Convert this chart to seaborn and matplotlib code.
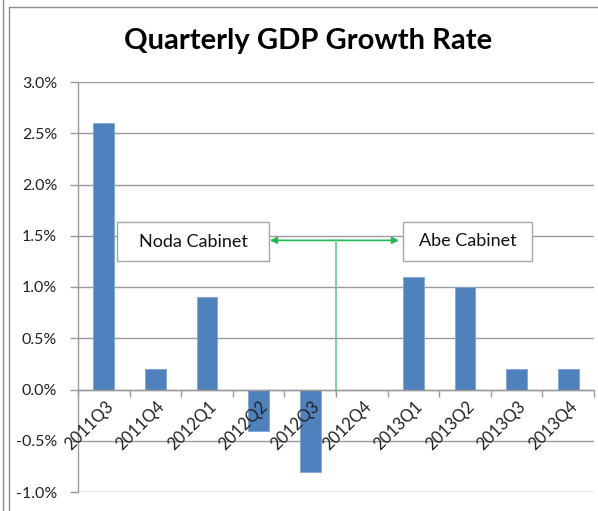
import numpy as np
import pandas as pd
import seaborn as sns
import matplotlib
matplotlib.use("Agg")
import matplotlib.pyplot as plt
from matplotlib.patches import Rectangle
from matplotlib.lines import Line2D

quarters = ["2011Q3", "2011Q4", "2012Q1", "2012Q2", "2012Q3",
            "2012Q4", "2013Q1", "2013Q2", "2013Q3", "2013Q4"]
growth = [2.6, 0.2, 0.9, -0.4, -0.8, 0.0, 1.1, 1.0, 0.2, 0.2]
y_ticks = [-1.0, -0.5, 0.0, 0.5, 1.0, 1.5, 2.0, 2.5, 3.0]
title = "Quarterly GDP Growth Rate"
label_left = "Noda Cabinet"
label_right = "Abe Cabinet"

sns.set_theme(style="white")
plt.rcParams['font.family'] = ['Lato', 'DejaVu Sans']

df = pd.DataFrame({"quarter": quarters, "growth": growth})

fig = plt.figure(figsize=(5.98, 5.11), dpi=100)
ax = fig.add_axes([78/598, 1-492/511, (594-78)/598, (492-82)/511])

sns.barplot(data=df, x="quarter", y="growth", color="#4F81BD", width=0.4,
            saturation=1, edgecolor="#7FA6D6", linewidth=0.6, ax=ax, zorder=3)

ax.set_xlim(-0.5, len(quarters) - 0.5)
ax.set_ylim(y_ticks[0], y_ticks[-1])
ax.set_yticks(y_ticks)
ax.set_yticklabels([f"{v:.1f}%" for v in y_ticks], fontsize=11.5, color="#222222")
ax.set_xlabel("")
ax.set_ylabel("")

grid_c = "#9A9A9A"
ax.yaxis.grid(True, color=grid_c, linewidth=1.0, zorder=0)
ax.xaxis.grid(False)
for s in ["top", "right"]:
    ax.spines[s].set_visible(False)
ax.spines["left"].set_color(grid_c)
ax.spines["left"].set_linewidth(1.0)
ax.spines["bottom"].set_position(("data", 0))
ax.spines["bottom"].set_color(grid_c)
ax.spines["bottom"].set_linewidth(1.0)
ax.spines["bottom"].set_zorder(4)
ax.xaxis.set_zorder(7)

ax.tick_params(axis="y", which="major", length=6, width=1.0, color=grid_c,
               direction="out", pad=9, left=True)
ax.set_xticks(range(len(quarters)))
ax.set_xticks(np.arange(-0.5, len(quarters), 1.0), minor=True)
ax.tick_params(axis="x", which="major", length=0, pad=4)
ax.tick_params(axis="x", which="minor", length=5, width=1.0, color=grid_c,
               direction="out", bottom=True)
ax.set_xticklabels(quarters, rotation=45, ha="right", va="top",
                   rotation_mode="anchor", fontsize=12, color="#222222")
for lbl in ax.get_xticklabels():
    lbl.set_transform(lbl.get_transform() + matplotlib.transforms.ScaledTranslation(1/100, -3/100, fig.dpi_scale_trans))

# Annotation boxes
ax.add_patch(Rectangle((0.256, 1.25), 3.20 - 0.256, 1.63 - 1.25, facecolor="white",
                       edgecolor="#A6A6A6", linewidth=1.0, zorder=5))
ax.text((0.256 + 3.20) / 2, 1.44, label_left, ha="center", va="center",
        fontsize=13, zorder=6, color="#111111")
ax.add_patch(Rectangle((5.80, 1.25), 8.30 - 5.80, 1.63 - 1.25, facecolor="white",
                       edgecolor="#A6A6A6", linewidth=1.0, zorder=5))
ax.text((5.80 + 8.30) / 2, 1.45, label_right, ha="center", va="center",
        fontsize=13, zorder=6, color="#111111")

green = "#1DB954"
ax.annotate("", xy=(3.22, 1.455), xytext=(4.5, 1.455),
            arrowprops=dict(arrowstyle="-|>", color=green, lw=1.2,
                            mutation_scale=10, shrinkA=0, shrinkB=0), zorder=6)
ax.annotate("", xy=(5.72, 1.455), xytext=(4.5, 1.455),
            arrowprops=dict(arrowstyle="-|>", color=green, lw=1.2,
                            mutation_scale=10, shrinkA=0, shrinkB=0), zorder=6)
ax.plot([4.5, 4.5], [1.455, -0.02], color="#5CD08A", lw=1.2, zorder=6)

fig.text(308/598, 1 - 41/511, title, ha="center", va="center",
         fontsize=21, fontweight="bold", color="black")

# Chart frame
fig.add_artist(Line2D([3/598, 3/598], [0, 1], transform=fig.transFigure,
                      color="#8C8C8C", lw=1.0))
fig.add_artist(Line2D([9/598, 9/598], [0, 1 - 7/511], transform=fig.transFigure,
                      color="#8C8C8C", lw=1.0))
fig.add_artist(Line2D([9/598, 1], [1 - 7/511, 1 - 7/511], transform=fig.transFigure,
                      color="#8C8C8C", lw=1.0))

fig.savefig("out.png", dpi=100)
